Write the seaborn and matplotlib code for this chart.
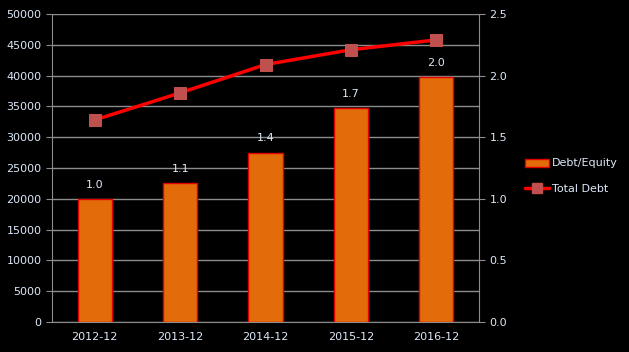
import matplotlib
matplotlib.use('Agg')
import numpy as np
import pandas as pd
import seaborn as sns
import matplotlib.pyplot as plt
from matplotlib.lines import Line2D
from matplotlib.patches import Patch

# data
periods = ['2012-12', '2013-12', '2014-12', '2015-12', '2016-12']
bar_values = [19900, 22500, 27500, 34700, 39700]
bar_labels = ['1.0', '1.1', '1.4', '1.7', '2.0']
line_values = [1.64, 1.86, 2.09, 2.21, 2.29]

txt = '#dde8f8'
grid = '#8c8c8c'

sns.set_style('dark')
plt.rcParams['font.family'] = ['DejaVu Sans']

fig = plt.figure(figsize=(6.29, 3.52), dpi=100, facecolor='black')
ax = fig.add_axes([0.0827, 0.0852, 0.679, 0.875], facecolor='black')

df = pd.DataFrame({'period': periods, 'value': bar_values})
sns.barplot(data=df, x='period', y='value', ax=ax, color='#e36c0a',
            edgecolor='#e00000', linewidth=1, width=0.4, saturation=1)
for p in ax.patches:
    p.set_zorder(3)

for i, (v, lab) in enumerate(zip(bar_values, bar_labels)):
    ax.text(i, v + 1500, lab, color=txt, ha='center', va='bottom', fontsize=8, zorder=4)

ax.set_ylim(0, 50000)
ax.set_yticks(np.arange(0, 50001, 5000))
ax.set_xlim(-0.5, 4.5)
ax.set_axisbelow(True)
ax.grid(axis='y', color=grid, linewidth=1)
ax.grid(axis='x', visible=False)
ax.set_xlabel('')
ax.set_ylabel('')
ax.tick_params(axis='both', colors=grid, labelcolor=txt, labelsize=8, length=4)
for side in ['top', 'right']:
    ax.spines[side].set_visible(False)
for side in ['left', 'bottom']:
    ax.spines[side].set_color(grid)

ax2 = ax.twinx()
sns.lineplot(x=np.arange(len(periods)), y=line_values, ax=ax2, color='#ff0000',
             linewidth=2.5, marker='s', markersize=8, markerfacecolor='#c0504d',
             markeredgecolor='#c0504d', zorder=4)
ax2.set_ylim(0, 2.5)
ax2.set_yticks(np.arange(0, 2.51, 0.5))
ax2.set_yticklabels([f'{t:.1f}' for t in np.arange(0, 2.51, 0.5)])
ax2.tick_params(axis='y', colors=grid, labelcolor=txt, labelsize=8, length=4)
ax2.grid(False)
for side in ['top', 'left', 'bottom']:
    ax2.spines[side].set_visible(False)
ax2.spines['right'].set_color(grid)

handles = [Patch(facecolor='#e36c0a', edgecolor='#e00000', label='Debt/Equity'),
           Line2D([0], [0], color='#ff0000', linewidth=2.5, marker='s', markersize=7,
                  markerfacecolor='#c0504d', markeredgecolor='#c0504d', label='Total Debt')]
leg = fig.legend(handles=handles, loc='center left', bbox_to_anchor=(0.818, 0.5),
                 frameon=False, fontsize=8, labelcolor=txt, handlelength=2.2,
                 handletextpad=0.3, labelspacing=1.35)

fig.savefig('out.png', dpi=100, facecolor='black')
